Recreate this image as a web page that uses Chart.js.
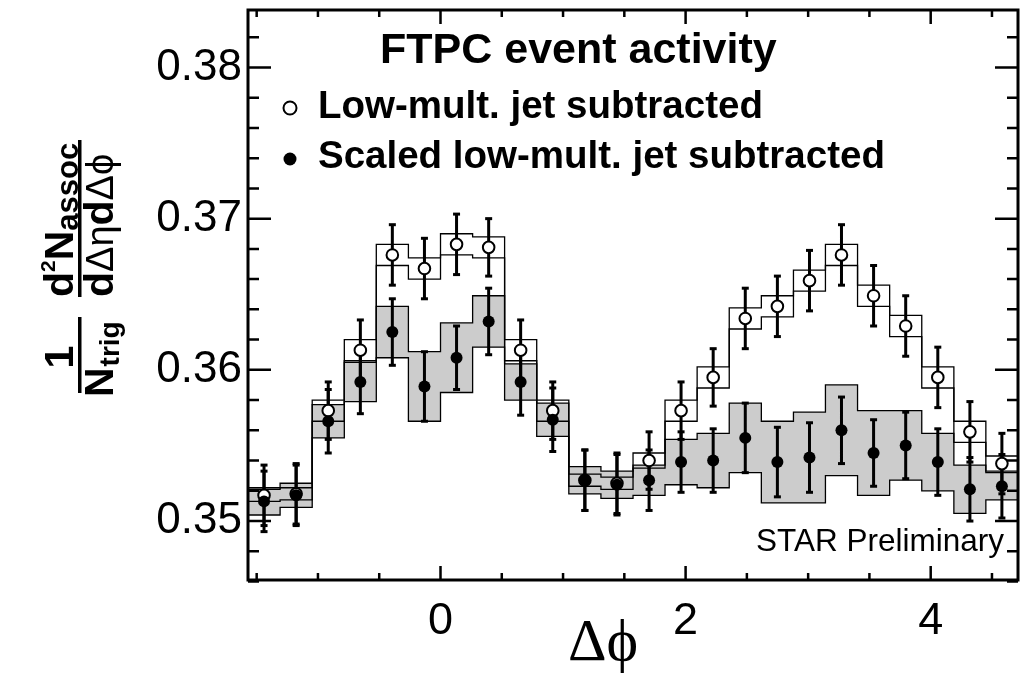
<!DOCTYPE html>
<html>
<head>
<meta charset="utf-8">
<script src="https://cdn.jsdelivr.net/npm/chart.js@4.4.1/dist/chart.umd.min.js"></script>
<style>
  html, body { margin: 0; padding: 0; background: #fff; }
  #wrap { width: 1026px; height: 673px; position: relative; }
</style>
</head>
<body>
<div id="wrap"><canvas id="chart"></canvas></div>
<script>
// 24 bins in delta-phi, from -pi/2 to 3pi/2
const binCenters = [-1.440, -1.178, -0.916, -0.654, -0.393, -0.131, 0.131, 0.393, 0.654, 0.916, 1.178, 1.440,
                    1.702, 1.963, 2.225, 2.487, 2.749, 3.011, 3.272, 3.534, 3.796, 4.058, 4.320, 4.581];
const binHalfWidth = 0.1309;

// Low-mult. jet subtracted (open circles)
const lowMult = [0.3517, 0.3518, 0.3573, 0.3613, 0.3676, 0.3667, 0.3683, 0.3681, 0.3613, 0.3573, 0.3527, 0.3525,
                 0.3540, 0.3573, 0.3595, 0.3634, 0.3642, 0.3659, 0.3676, 0.3649, 0.3629, 0.3595, 0.3559, 0.3538];
const lowMultStat = [0.0020, 0.0020, 0.0019, 0.0020, 0.0020, 0.0020, 0.0020, 0.0019, 0.0020, 0.0019, 0.0020, 0.0020,
                     0.0019, 0.0019, 0.0019, 0.0020, 0.0020, 0.0020, 0.0020, 0.0020, 0.0020, 0.0020, 0.0020, 0.0020];
const lowMultSys = [0.0004, 0.0004, 0.0007, 0.0007, 0.0007, 0.0007, 0.0007, 0.0007, 0.0007, 0.0007, 0.0004, 0.0004,
                    0.0005, 0.0007, 0.0007, 0.0007, 0.0007, 0.0007, 0.0007, 0.0007, 0.0007, 0.0007, 0.0007, 0.0005];

// Scaled low-mult. jet subtracted (filled circles)
const scaledLowMult = [0.3513, 0.3517, 0.3566, 0.3592, 0.3625, 0.3589, 0.3608, 0.3632, 0.3592, 0.3567, 0.3527, 0.3524,
                       0.3527, 0.3539, 0.3540, 0.3555, 0.3539, 0.3542, 0.3560, 0.3545, 0.3550, 0.3539, 0.3521, 0.3523];
const scaledStat = [0.0020, 0.0020, 0.0021, 0.0021, 0.0022, 0.0023, 0.0021, 0.0022, 0.0022, 0.0021, 0.0020, 0.0020,
                    0.0020, 0.0020, 0.0021, 0.0023, 0.0023, 0.0023, 0.0022, 0.0022, 0.0022, 0.0022, 0.0021, 0.0021];
const scaledSys = [0.0009, 0.0008, 0.0011, 0.0013, 0.0017, 0.0023, 0.0023, 0.0017, 0.0012, 0.0011, 0.0009, 0.0009,
                   0.0010, 0.0015, 0.0018, 0.0023, 0.0027, 0.0030, 0.0030, 0.0028, 0.0023, 0.0019, 0.0016, 0.0009];

const xMajorTicks = [0, 2, 4];
const yMajorTicks = [0.35, 0.36, 0.37, 0.38];
const xRange = [-Math.PI / 2, 3 * Math.PI / 2];
const yRange = [0.3461, 0.3838];

// histogram outline: a point on every left bin edge, last bin repeated on the right edge
function stepLine(values, shift, sign) {
  const pts = values.map((v, i) => ({ x: binCenters[i] - binHalfWidth, y: v + sign * shift[i] }));
  const last = values.length - 1;
  pts.push({ x: binCenters[last] + binHalfWidth, y: values[last] + sign * shift[last] });
  return pts;
}

// vertical error bars, separated by gaps
function errorBars(values, errs) {
  const pts = [];
  values.forEach((v, i) => {
    pts.push({ x: binCenters[i], y: v - errs[i] });
    pts.push({ x: binCenters[i], y: v + errs[i] });
    pts.push({ x: binCenters[i], y: null });
  });
  return pts;
}

function points(values) {
  return values.map((v, i) => ({ x: binCenters[i], y: v }));
}

function vText(ctx, str, font, bx, by, align) {
  ctx.save();
  ctx.font = font;
  ctx.textAlign = align || 'left';
  ctx.translate(bx, by);
  ctx.rotate(-Math.PI / 2);
  ctx.fillText(str, 0, 0);
  const w = ctx.measureText(str).width;
  ctx.restore();
  return w;
}

const framePlugin = {
  id: 'frame',
  afterDraw(chart) {
    const { ctx, chartArea: a, scales: { x, y } } = chart;
    ctx.save();
    ctx.strokeStyle = '#000';
    ctx.fillStyle = '#000';

    // ticks pointing inwards on all four sides
    ctx.lineWidth = 2.5;
    ctx.beginPath();
    for (let k = 0; k <= 12; k++) {
      const v = -1.5 + k * 0.5;
      const px = x.getPixelForValue(v);
      const len = xMajorTicks.includes(v) ? 14 : 7;
      ctx.moveTo(px, a.bottom); ctx.lineTo(px, a.bottom - len);
      ctx.moveTo(px, a.top); ctx.lineTo(px, a.top + len);
    }
    for (let k = 0; k <= 18; k++) {
      const v = 0.346 + k * 0.002;
      const py = y.getPixelForValue(v);
      const len = yMajorTicks.some(t => Math.abs(t - v) < 1e-6) ? 23 : 11;
      ctx.moveTo(a.left, py); ctx.lineTo(a.left + len, py);
      ctx.moveTo(a.right, py); ctx.lineTo(a.right - len, py);
    }
    ctx.stroke();
    ctx.lineWidth = 3;
    ctx.strokeRect(a.left, a.top, a.right - a.left, a.bottom - a.top);

    // legend block
    ctx.font = 'bold 43px "Liberation Sans", Arial, sans-serif';
    ctx.textBaseline = 'alphabetic';
    ctx.fillText('FTPC event activity', 380, 63);
    ctx.font = 'bold 38.5px "Liberation Sans", Arial, sans-serif';
    ctx.fillText('Low-mult. jet subtracted', 318, 118);
    ctx.fillText('Scaled low-mult. jet subtracted', 318, 168);
    ctx.lineWidth = 2;
    ctx.beginPath(); ctx.arc(290, 108, 6.5, 0, Math.PI * 2);
    ctx.fillStyle = '#fff'; ctx.fill(); ctx.stroke();
    ctx.fillStyle = '#000';
    ctx.beginPath(); ctx.arc(290, 159, 6.5, 0, Math.PI * 2); ctx.fill();

    ctx.font = '31.5px "Liberation Sans", Arial, sans-serif';
    ctx.textAlign = 'right';
    ctx.fillText('STAR Preliminary', 1004, 551);

    // x title
    ctx.textAlign = 'left';
    ctx.font = '60px "Liberation Serif", "DejaVu Serif", serif';
    ctx.fillText('\u0394\u03d5', 568, 660);

    // y title: 1/N_trig  d2N_assoc / dΔηdΔφ
    const b41 = 'bold 41px "Liberation Sans", Arial, sans-serif';
    const sym = '38px "Liberation Sans", "DejaVu Sans", sans-serif';
    vText(ctx, '1', b41, 73, 357, 'center');
    ctx.fillRect(78, 317, 3.5, 76);
    let yy = 397;
    yy -= vText(ctx, 'N', b41, 113, yy);
    vText(ctx, 'trig', 'bold 28px "Liberation Sans", Arial, sans-serif', 119, yy - 1);

    ctx.fillRect(78, 140, 3.5, 157);
    yy = 297;
    yy -= vText(ctx, 'd', b41, 73, yy);
    yy -= vText(ctx, '2', 'bold 21px "Liberation Sans", Arial, sans-serif', 55, yy);
    yy -= vText(ctx, 'N', b41, 73, yy);
    vText(ctx, 'assoc', 'bold 31px "Liberation Sans", Arial, sans-serif', 78, yy);

    yy = 297;
    yy -= vText(ctx, 'd', b41, 113, yy);
    yy -= vText(ctx, '\u0394', sym, 113, yy);
    yy -= vText(ctx, '\u03b7', sym, 113, yy);
    yy -= vText(ctx, 'd', b41, 113, yy);
    yy -= vText(ctx, '\u0394', sym, 113, yy);
    vText(ctx, '\u03d5', sym, 113, yy);
    ctx.restore();
  }
};

// stepped: true draws the horizontal run first, so each value covers its own bin
const stepStyle = { stepped: true, borderColor: '#000', borderWidth: 1.3, pointRadius: 0 };
const errStyle = { borderColor: '#000', borderWidth: 3, pointStyle: 'line', pointRadius: 3.5,
                   pointBorderColor: '#000', pointBorderWidth: 3, fill: false };

function noPad(s) {
  s.paddingTop = 0; s.paddingBottom = 0; s.paddingLeft = 0; s.paddingRight = 0;
}

new Chart(document.getElementById('chart'), {
  type: 'line',
  data: {
    datasets: [
      Object.assign({ label: 'scaled sys up', data: stepLine(scaledLowMult, scaledSys, 1), fill: false, order: 6 }, stepStyle),
      Object.assign({ label: 'scaled sys down', data: stepLine(scaledLowMult, scaledSys, -1), fill: '-1',
                      backgroundColor: '#cccccc', order: 7 }, stepStyle),
      Object.assign({ label: 'low sys up', data: stepLine(lowMult, lowMultSys, 1), fill: false, order: 8 }, stepStyle),
      Object.assign({ label: 'low sys down', data: stepLine(lowMult, lowMultSys, -1), fill: false, order: 9 }, stepStyle),
      Object.assign({ label: 'low stat', data: errorBars(lowMult, lowMultStat), order: 5 }, errStyle),
      Object.assign({ label: 'scaled stat', data: errorBars(scaledLowMult, scaledStat), order: 4 }, errStyle),
      { label: 'Low-mult. jet subtracted', data: points(lowMult), showLine: false, pointStyle: 'circle',
        pointRadius: 5.8, pointBackgroundColor: '#fff', pointBorderColor: '#000', pointBorderWidth: 2, order: 3 },
      { label: 'Scaled low-mult. jet subtracted', data: points(scaledLowMult), showLine: false, pointStyle: 'circle',
        pointRadius: 6, pointBackgroundColor: '#000', pointBorderColor: '#000', pointBorderWidth: 0, order: 2 }
    ]
  },
  options: {
    responsive: true,
    maintainAspectRatio: false,
    animation: false,
    layout: { padding: { top: 10, right: 8, left: 0, bottom: 0 } },
    plugins: {
      legend: { display: false },
      tooltip: { enabled: false },
      filler: { drawTime: 'beforeDatasetsDraw' }
    },
    scales: {
      x: {
        type: 'linear', min: xRange[0], max: xRange[1], offset: false,
        grid: { display: false, drawTicks: false }, border: { display: false },
        afterBuildTicks: s => { s.ticks = xMajorTicks.map(v => ({ value: v })); },
        afterFit: s => { s.height = 93; noPad(s); },
        ticks: { font: { family: 'Liberation Sans', size: 45 }, color: '#000', padding: 15,
                 maxRotation: 0, autoSkip: false, callback: v => String(v) }
      },
      y: {
        type: 'linear', min: yRange[0], max: yRange[1],
        grid: { display: false, drawTicks: false }, border: { display: false },
        afterBuildTicks: s => { s.ticks = yMajorTicks.map(v => ({ value: v })); },
        afterFit: s => { s.width = 248; noPad(s); },
        ticks: { font: { family: 'Liberation Sans', size: 44 }, color: '#000', padding: 6,
                 autoSkip: false, callback: v => v.toFixed(2) }
      }
    }
  },
  plugins: [framePlugin]
});
</script>
</body>
</html>
